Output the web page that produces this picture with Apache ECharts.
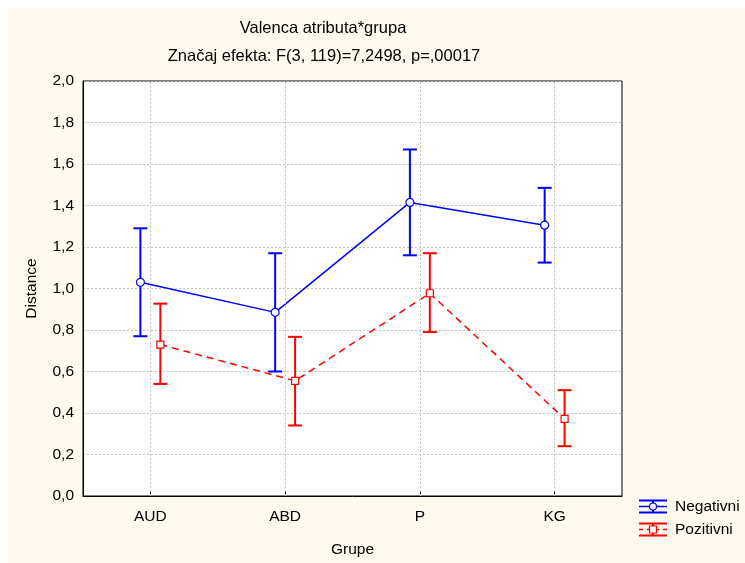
<!DOCTYPE html>
<html>
<head>
<meta charset="utf-8">
<script src="https://cdn.jsdelivr.net/npm/echarts@6/dist/echarts.min.js"></script>
<style>
html,body{margin:0;padding:0;background:#ffffff;}
#c{width:745px;height:563px;}
</style>
</head>
<body>
<div id="c"></div>
<script>
const categories = ['AUD', 'ABD', 'P', 'KG'];
const seriesNames = ['Negativni', 'Pozitivni'];
const negMean  = [1.03, 0.885, 1.415, 1.305];
const negUpper = [1.29, 1.17, 1.67, 1.485];
const negLower = [0.77, 0.60, 1.16, 1.125];
const posMean  = [0.73, 0.555, 0.977, 0.372];
const posUpper = [0.927, 0.767, 1.17, 0.51];
const posLower = [0.54, 0.34, 0.79, 0.24];
const yTicks = ['0,0','0,2','0,4','0,6','0,8','1,0','1,2','1,4','1,6','1,8','2,0'];
const titleText = 'Valenca atributa*grupa';
const subtitleText = 'Značaj efekta: F(3, 119)=7,2498, p=,00017';
const xName = 'Grupe';
const yName = 'Distance';

const FONT = '"Liberation Sans", Arial, sans-serif';
const FS = 15.5;
const FT = 16.5;
const BLUE = '#0000ff';
const RED = '#ff0000';
const GRID = '#c4c4c4';
const OFFSET = 0.074; // horizontal shift of each group (category units)

function pts(mean, sign) {
  return mean.map((v, i) => [i + sign * OFFSET, v]);
}
function bars(lo, hi, sign) {
  return lo.map((l, i) => [i + sign * OFFSET, l, hi[i]]);
}
function errRender(color) {
  return function (params, api) {
    const x = api.value(0);
    const p1 = api.coord([x, api.value(1)]);
    const p2 = api.coord([x, api.value(2)]);
    const hw = 7;
    const st = { stroke: color, lineWidth: 2 };
    return {
      type: 'group',
      children: [
        { type: 'line', shape: { x1: p1[0], y1: p1[1], x2: p2[0], y2: p2[1] }, style: st },
        { type: 'line', shape: { x1: p1[0] - hw, y1: p1[1], x2: p1[0] + hw, y2: p1[1] }, style: st },
        { type: 'line', shape: { x1: p2[0] - hw, y1: p2[1], x2: p2[0] + hw, y2: p2[1] }, style: st }
      ]
    };
  };
}

function legendItem(y, color, name, isCircle, dashed) {
  const x0 = 639, x1 = 667, xm = 653;
  const st = { stroke: color, lineWidth: 2 };
  const ch = [
    { type: 'line', shape: { x1: x0, y1: y - 6, x2: x1, y2: y - 6 }, style: st },
    { type: 'line', shape: { x1: x0, y1: y + 6, x2: x1, y2: y + 6 }, style: st },
    { type: 'line', shape: { x1: xm, y1: y - 6, x2: xm, y2: y + 6 }, style: st },
    { type: 'line', shape: { x1: x0, y1: y, x2: x1, y2: y }, style: { stroke: color, lineWidth: 1.5, lineDash: dashed ? [4, 4] : null } },
    isCircle
      ? { type: 'circle', shape: { cx: xm, cy: y, r: 3.5 }, style: { fill: '#fff', stroke: color, lineWidth: 1.2 } }
      : { type: 'rect', shape: { x: xm - 3.5, y: y - 3.5, width: 7, height: 7 }, style: { fill: '#fff', stroke: color, lineWidth: 1.2 } },
    { type: 'text', x: 675, y: y, style: { text: name, fill: '#000', font: FS + 'px ' + FONT, textVerticalAlign: 'middle' } }
  ];
  return { type: 'group', children: ch };
}

const chart = echarts.init(document.getElementById('c'), null, { renderer: 'canvas' });
chart.setOption({
  animation: false,
  backgroundColor: '#ffffff',
  graphic: [
    { type: 'rect', z: -10, shape: { x: 8, y: 8, width: 737, height: 555 }, style: { fill: '#fffaf0' }, silent: true },
    { type: 'text', x: 323, y: 28, style: { text: titleText, fill: '#000', font: FT + 'px ' + FONT, textAlign: 'center', textVerticalAlign: 'middle' } },
    { type: 'text', x: 324, y: 56, style: { text: subtitleText, fill: '#000', font: FT + 'px ' + FONT, textAlign: 'center', textVerticalAlign: 'middle' } },
    legendItem(506.5, BLUE, seriesNames[0], true, false),
    legendItem(529.5, RED, seriesNames[1], false, true)
  ],
  grid: {
    left: 83, top: 81, right: 123, bottom: 66,
    show: true, backgroundColor: '#ffffff', borderColor: '#000', borderWidth: 1
  },
  xAxis: [
    {
      type: 'category', data: categories, boundaryGap: true,
      name: xName, nameLocation: 'middle', nameGap: 46,
      nameTextStyle: { color: '#000', fontSize: FS, fontFamily: FONT },
      axisLine: { lineStyle: { color: '#000', width: 1 } },
      axisTick: { show: true, alignWithLabel: true, inside: true, length: 4, lineStyle: { color: '#000' } },
      axisLabel: { color: '#000', fontSize: FS, fontFamily: FONT, margin: 13 },
      splitLine: { show: false }
    },
    { type: 'value', min: -0.5, max: 3.5, show: false }
  ],
  yAxis: {
    type: 'value', min: 0, max: 2, interval: 0.2,
    name: yName, nameLocation: 'middle', nameGap: 43, nameRotate: 90,
    nameTextStyle: { color: '#000', fontSize: FS, fontFamily: FONT },
    axisLine: { show: true, onZero: false, lineStyle: { color: '#000', width: 1 } },
    axisTick: { show: false },
    axisLabel: { color: '#000', fontSize: FS, fontFamily: FONT, margin: 9,
      formatter: (v) => yTicks[Math.round(v / 0.2)] },
    splitLine: { show: true, lineStyle: { color: GRID, type: [2, 2] } }
  },
  series: [
    {
      type: 'custom', name: seriesNames[0] + ' err', xAxisIndex: 1, data: bars(negLower, negUpper, -1), renderItem: errRender(BLUE), z: 2,
      markLine: {
        silent: true, symbol: 'none', label: { show: false }, animation: false,
        lineStyle: { color: GRID, type: [2, 2], width: 1 },
        data: categories.map((c, i) => ({ xAxis: i }))
      }
    },
    { type: 'custom', name: seriesNames[1] + ' err', xAxisIndex: 1, data: bars(posLower, posUpper, 1), renderItem: errRender(RED), z: 2 },
    {
      type: 'line', name: seriesNames[0], xAxisIndex: 1, data: pts(negMean, -1), z: 3,
      symbol: 'circle', symbolSize: 8, showAllSymbol: true,
      lineStyle: { color: BLUE, width: 1.5 },
      itemStyle: { color: '#fff', borderColor: BLUE, borderWidth: 1.2 }
    },
    {
      type: 'line', name: seriesNames[1], xAxisIndex: 1, data: pts(posMean, 1), z: 3,
      symbol: 'rect', symbolSize: 7, showAllSymbol: true,
      lineStyle: { color: RED, width: 1.5, type: [7, 5] },
      itemStyle: { color: '#fff', borderColor: RED, borderWidth: 1.2 }
    }
  ]
});
</script>
</body>
</html>
